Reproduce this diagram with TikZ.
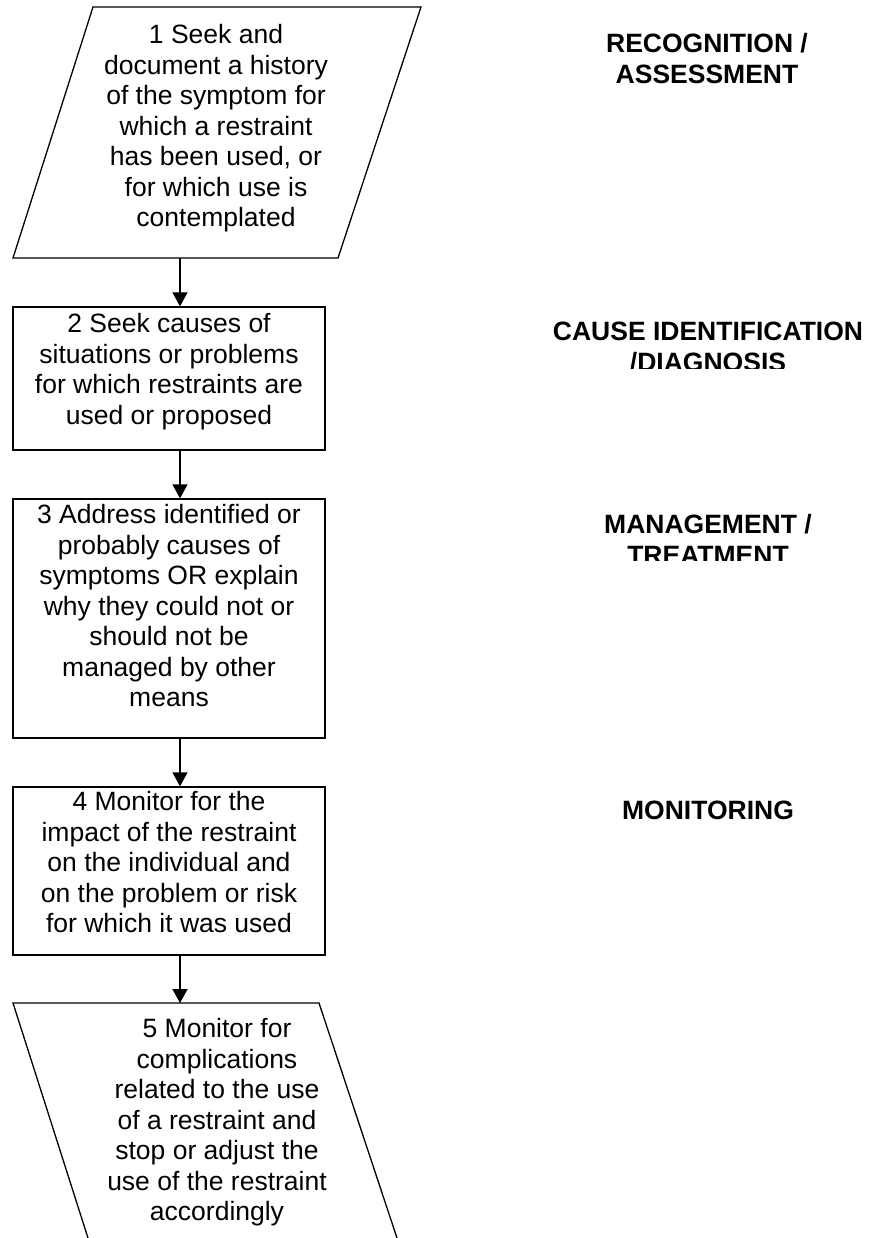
\documentclass[tikz,border=0pt]{standalone}
\usepackage{fontspec}
\setmainfont{Liberation Sans}
\usetikzlibrary{arrows.meta}

\tikzset{
  stepbox/.style={draw, line width=1.3pt, minimum width=312pt, inner sep=0pt},
  steptext/.style={align=center, inner sep=0pt, anchor=north, yshift=21.35pt,
    font=\fontsize{26.5}{30.5}\selectfont},
  phase/.style={steptext, font=\fontsize{26.5}{30.5}\selectfont\bfseries},
}

\begin{document}
\begin{tikzpicture}[x=1pt,y=-1pt,line width=1.3pt,>={Triangle[width=15pt,length=14pt]}]

\useasboundingbox (0,0) rectangle (870,1238);

\coordinate (axis) at (180,0);

% step 1
\coordinate (p1a) at (93,7);
\coordinate (p1b) at (421,7);
\coordinate (p1c) at (338,258);
\coordinate (p1d) at (13,258);
\draw (p1a) -- (p1b) -- (p1c) -- (p1d) -- cycle;
\node[steptext] (t1) at (216,43) {\strut 1 Seek and\\document a history\\of the symptom for\\which a restraint\\has been used, or\\for which use is\\contemplated};

% steps 2 to 4
\node[stepbox, minimum height=143pt] (b2) at (169,378.5) {};
\node[steptext] (t2) at (169,332) {\strut 2 Seek causes of\\situations or problems\\for which restraints are\\used or proposed};

\node[stepbox, minimum height=239pt] (b3) at (169,618.5) {};
\node[steptext] (t3) at (169,523) {\strut 3 Address identified or\\probably causes of\\symptoms OR explain\\why they could not or\\should not be\\managed by other\\means};

\node[stepbox, minimum height=168pt] (b4) at (169,871) {};
\node[steptext] (t4) at (169,810) {\strut 4 Monitor for the\\impact of the restraint\\on the individual and\\on the problem or risk\\for which it was used};

% step 5, runs off the page
\coordinate (p5a) at (13,1003);
\coordinate (p5b) at (319,1003);
\draw (88,1238) -- (p5a) -- (p5b) -- (397,1238);
\node[steptext] (t5) at (217,1037) {\strut 5 Monitor for\\complications\\related to the use\\of a restraint and\\stop or adjust the\\use of the restraint\\accordingly};

\draw[->] (p1d -| axis) -- (b2.north -| axis);
\draw[->] (b2.south -| axis) -- (b3.north -| axis);
\draw[->] (b3.south -| axis) -- (b4.north -| axis);
\draw[->] (b4.south -| axis) -- (p5a -| axis);

% phases
\node[phase] (l1) at (707,52) {\strut RECOGNITION /\\ASSESSMENT};
\begin{scope}
\clip (540,300) rectangle (870,368);
\node[phase] (l2) at (708,340) {\strut CAUSE IDENTIFICATION\\/DIAGNOSIS};
\end{scope}
\begin{scope}
\clip (540,490) rectangle (870,560.5);
\node[phase] (l3) at (708,533) {\strut MANAGEMENT /\\TREATMENT};
\end{scope}
\node[phase] (l4) at (708,819) {\strut MONITORING};

\end{tikzpicture}
\end{document}
